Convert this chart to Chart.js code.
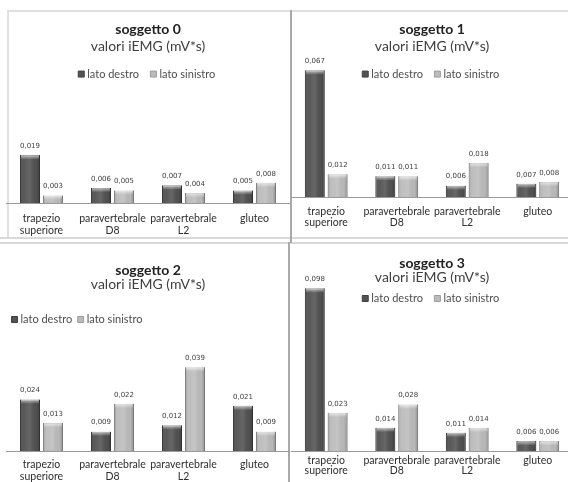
<!DOCTYPE html>
<html>
<head>
<meta charset="utf-8">
<script src="https://cdn.jsdelivr.net/npm/chart.js@4.4.1/dist/chart.umd.min.js"></script>
<style>
  html, body { margin: 0; padding: 0; background: #fff; }
  body { position: relative; width: 568px; height: 482px; overflow: hidden; }
  canvas { position: absolute; }
  .rule { position: absolute; }
</style>
</head>
<body>
<!-- panel frames -->
<div class="rule" style="left:7px;top:10px;width:561px;height:2px;background:#e0e0e0"></div>
<div class="rule" style="left:7px;top:10px;width:2px;height:228px;background:#e0e0e0"></div>
<div class="rule" style="left:0;top:237px;width:568px;height:2px;background:#d8d8d8"></div>
<div class="rule" style="left:0;top:242px;width:568px;height:2px;background:#d8d8d8"></div>
<div class="rule" style="left:290px;top:10px;width:2px;height:233px;background:#a9a9a9"></div>
<div class="rule" style="left:288px;top:242px;width:2px;height:240px;background:#a9a9a9"></div>

<canvas id="c0"></canvas>
<canvas id="c1"></canvas>
<canvas id="c2"></canvas>
<canvas id="c3"></canvas>

<script>
// ---- data ----
const categories = [['trapezio', 'superiore'], ['paravertebrale', 'D8'], ['paravertebrale', 'L2'], ['gluteo']];
const seriesNames = ['lato destro', 'lato sinistro'];
const subjects = ['soggetto 0', 'soggetto 1', 'soggetto 2', 'soggetto 3'];
const unitLabel = 'valori iEMG (mV*s)';

const destro0   = [0.019, 0.006, 0.007, 0.005];
const sinistro0 = [0.003, 0.005, 0.004, 0.008];
const destro1   = [0.067, 0.011, 0.006, 0.007];
const sinistro1 = [0.012, 0.011, 0.018, 0.008];
const destro2   = [0.024, 0.009, 0.012, 0.021];
const sinistro2 = [0.013, 0.022, 0.039, 0.009];
const destro3   = [0.098, 0.014, 0.011, 0.006];
const sinistro3 = [0.023, 0.028, 0.014, 0.006];

const destroBySubject = [destro0, destro1, destro2, destro3];
const sinistroBySubject = [sinistro0, sinistro1, sinistro2, sinistro3];

// ---- panel geometry and type settings ----
const layouts = [
  { left: 6,   top: 10,  w: 284, h: 239, pxPerUnit: 2520, titleLh: 16.8, titlePt: 11,   subLh: 16.8, subPt: 0, subPb: 0,    legendAlign: 'center', legendPad: 14, tickLh: 12, tickPad: 10,  padBottom: 2 },
  { left: 291, top: 10,  w: 282, h: 229, pxPerUnit: 1890, titleLh: 16.8, titlePt: 11,   subLh: 16.8, subPt: 0, subPb: 0,    legendAlign: 'center', legendPad: 14, tickLh: 11, tickPad: 9,   padBottom: 2 },
  { left: 6,   top: 243, w: 284, h: 250, pxPerUnit: 2150, titleLh: 14,   titlePt: 20.7, subLh: 14,   subPt: 0, subPb: 14.3, legendAlign: 'start',  legendPad: 8,  tickLh: 12, tickPad: 8,   padBottom: 2 },
  { left: 291, top: 243, w: 282, h: 240, pxPerUnit: 1660, titleLh: 14,   titlePt: 13,   subLh: 4,    subPt: 5, subPb: 0,    legendAlign: 'center', legendPad: 14, tickLh: 10, tickPad: 4.7, padBottom: 2.6 }
];

Chart.defaults.font.family = 'Lato, "Open Sans", sans-serif';
Chart.defaults.animation = false;

const fmt = v => v.toFixed(3).replace('.', ',');

// bevelled bar finish plus value labels above each bar
const barFinish = {
  id: 'barFinish',
  afterDatasetsDraw(chart) {
    const ctx = chart.ctx;
    const labels = [];
    ctx.save();
    chart.data.datasets.forEach((ds, di) => {
      const meta = chart.getDatasetMeta(di);
      if (meta.hidden) return;
      meta.data.forEach((el, i) => {
        const { x, y, base, width } = el.getProps(['x', 'y', 'base', 'width'], true);
        const left = x - width / 2;
        const top = Math.min(y, base);
        const h = Math.abs(base - y);
        const g = ctx.createLinearGradient(left, 0, left + width, 0);
        g.addColorStop(0, 'rgba(0,0,0,0.22)');
        g.addColorStop(0.18, 'rgba(255,255,255,0.04)');
        g.addColorStop(0.5, 'rgba(255,255,255,0.12)');
        g.addColorStop(0.82, 'rgba(0,0,0,0.02)');
        g.addColorStop(1, 'rgba(0,0,0,0.25)');
        ctx.fillStyle = g;
        ctx.fillRect(left, top, width, h);
        const capH = Math.min(4, h);
        const g2 = ctx.createLinearGradient(0, top, 0, top + capH);
        g2.addColorStop(0, 'rgba(255,255,255,0.6)');
        g2.addColorStop(1, 'rgba(255,255,255,0.08)');
        ctx.fillStyle = g2;
        ctx.fillRect(left + 1, top, width - 2, capH);
        labels.push({ text: fmt(ds.data[i]), x, y: top - 9 });
      });
    });
    ctx.fillStyle = '#404040';
    ctx.font = '7px "DejaVu Sans"';
    ctx.textAlign = 'center';
    ctx.textBaseline = 'middle';
    labels.forEach(l => ctx.fillText(l.text, l.x, l.y));
    ctx.restore();
  }
};

function buildChart(k) {
  const L = layouts[k];
  const canvas = document.getElementById('c' + k);
  canvas.width = L.w;
  canvas.height = L.h;
  canvas.style.left = L.left + 'px';
  canvas.style.top = L.top + 'px';

  const chart = new Chart(canvas, {
    type: 'bar',
    data: {
      labels: categories,
      datasets: [
        { label: seriesNames[0], data: destroBySubject[k], backgroundColor: '#525252', borderColor: '#404040', borderWidth: 1, clip: false },
        { label: seriesNames[1], data: sinistroBySubject[k], backgroundColor: '#bcbcbc', borderColor: '#9c9c9c', borderWidth: 1, clip: false }
      ]
    },
    options: {
      responsive: false,
      animation: false,
      datasets: { bar: { categoryPercentage: 0.648, barPercentage: 0.87 } },
      layout: { padding: { left: 0, right: 0, top: 0, bottom: L.padBottom } },
      plugins: {
        title: {
          display: true, text: subjects[k], color: '#222',
          font: { size: 14, weight: 'bold', lineHeight: L.titleLh + 'px' },
          padding: { top: L.titlePt, bottom: 0 }
        },
        subtitle: {
          display: true, text: unitLabel, color: '#404040',
          font: { size: 14, lineHeight: L.subLh + 'px' },
          padding: { top: L.subPt, bottom: L.subPb }
        },
        legend: {
          display: true, position: 'top', align: L.legendAlign,
          labels: {
            usePointStyle: true, pointStyle: 'rect', boxWidth: 1, boxHeight: 6,
            padding: L.legendPad, color: '#4d4d4d', font: { size: 11 }
          }
        },
        tooltip: { enabled: false }
      },
      scales: {
        x: {
          grid: { display: false, drawTicks: false },
          border: { display: true, color: '#9a9a9a', width: 1 },
          ticks: {
            color: '#2e2e2e', padding: L.tickPad, maxRotation: 0, autoSkip: false,
            font: { size: 10.5, lineHeight: L.tickLh + 'px' }
          }
        },
        y: { display: false, min: 0, max: 0.05 }
      }
    },
    plugins: [barFinish]
  });

  // set the value range so that one unit spans the panel's pixel scale
  const area = chart.chartArea;
  chart.options.scales.y.max = (area.bottom - area.top) / L.pxPerUnit;
  chart.update('none');
  return chart;
}

[0, 1, 2, 3].forEach(buildChart);
</script>
</body>
</html>
